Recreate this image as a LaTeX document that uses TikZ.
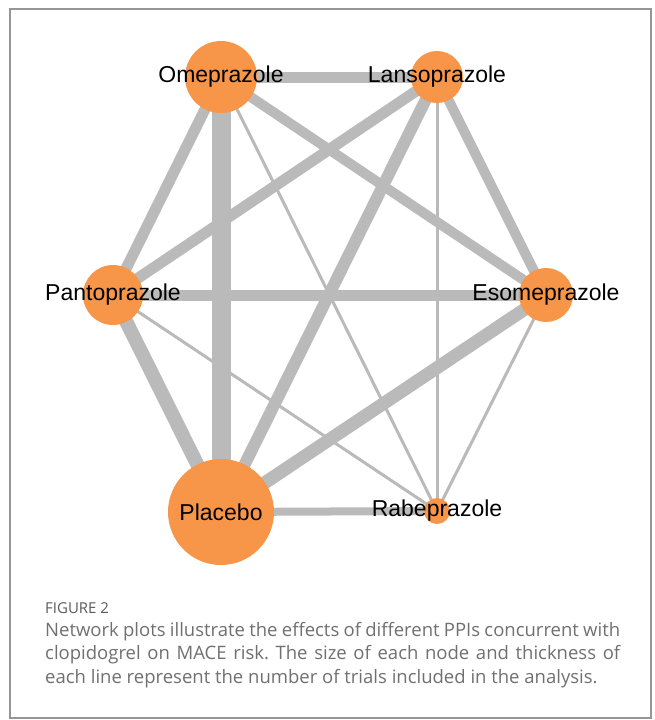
\documentclass[tikz,border=0pt]{standalone}
\usepackage{fontspec}
\setmainfont{Liberation Sans}
\newfontfamily\capfont{Open Sans}
\usetikzlibrary{backgrounds}
\definecolor{drugorange}{RGB}{247,150,72}
\definecolor{linkgray}{RGB}{186,186,186}
\definecolor{framegray}{RGB}{150,150,150}
\definecolor{captiongray}{RGB}{112,112,112}
\frenchspacing

\begin{document}
\begin{tikzpicture}[x=1pt,y=-1pt,
  drug/.style={circle,fill=drugorange,inner sep=0pt,minimum size=#1},
  every label/.style={font=\fontsize{23}{26}\selectfont,inner sep=0pt},
  link/.style={draw=linkgray,line width=#1}]
 \useasboundingbox (0,0) rectangle (654,720);
 \draw[framegray,line width=1.5pt] (10,9) rectangle (651,718);

 \node[drug=72pt,label=center:Omeprazole] (ome) at (221,77) {};
 \node[drug=52pt,label=center:Lansoprazole] (lan) at (437,77) {};
 \node[drug=60pt,label=center:Pantoprazole] (pan) at (113,295) {};
 \node[drug=54pt,label=center:Esomeprazole] (eso) at (546,295) {};
 \node[drug=106pt,label=center:Placebo] (pla) at (221,512) {};
 \node[drug=26pt,label=center:Rabeprazole] (rab) at (437,511) {};

 \begin{scope}[on background layer]
 \path (ome.center) edge[link=11pt] (lan.center)
                    edge[link=19pt] (pla.center)
                    edge[link=11pt] (pan.center)
                    edge[link=10pt] (eso.center)
                    edge[link=3pt] (rab.center);
 \path (lan.center) edge[link=11pt] (pan.center)
                    edge[link=12pt] (pla.center)
                    edge[link=10pt] (eso.center)
                    edge[link=3pt] (rab.center);
 \path (pan.center) edge[link=11pt] (eso.center)
                    edge[link=14pt] (pla.center)
                    edge[link=3pt] (rab.center);
 \path (eso.center) edge[link=13pt] (pla.center)
                    edge[link=3pt] (rab.center);
 \path (pla.center) edge[link=8pt] (rab.center);
 \end{scope}

 \node[anchor=base west,inner sep=0pt,text=captiongray!80!black,
   font=\capfont\fontsize{15}{17}\selectfont] (fig) at (45,613) {FIGURE 2};
 \node[anchor=north west,inner sep=0pt,text width=575pt,align=justify,
   text=captiongray,font=\capfont\fontsize{18.5}{23.5}\selectfont] (cap) at (45,622)
   {Network plots illustrate the effects of different PPIs concurrent with\linebreak
    clopidogrel on MACE risk. The size of each node and thickness of\linebreak
    each line represent the number of trials included in the analysis.};
\end{tikzpicture}
\end{document}
